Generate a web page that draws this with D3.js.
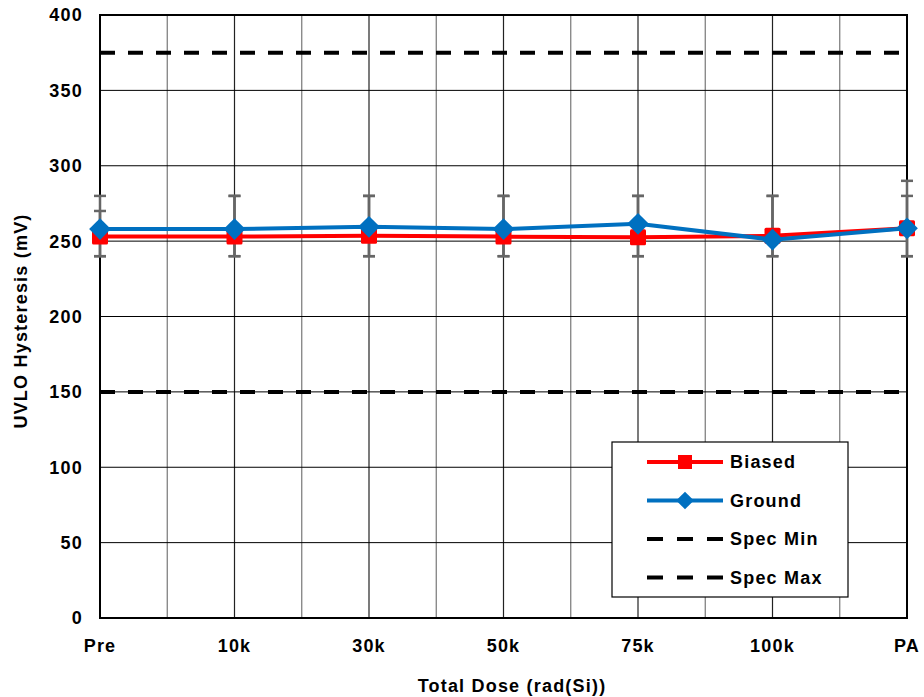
<!DOCTYPE html>
<html lang="en">
<head>
<meta charset="utf-8">
<script src="https://cdnjs.cloudflare.com/ajax/libs/d3/7.8.5/d3.min.js"></script>
<style>
  body { margin: 0; background: #fff; }
  text { font-family: "Liberation Sans", Arial, sans-serif; font-weight: bold; fill: #000; font-size: 18px; letter-spacing: 1.2px; }
</style>
</head>
<body>
<script>

var categories = ["Pre", "10k", "30k", "50k", "75k", "100k", "PA"];
var biased = [253, 253, 253.5, 253, 252.5, 253.5, 258.5];
var ground = [258, 258, 259.5, 258, 261.5, 251, 258.5];
var biasedErrLow = [240, 240, 240, 240, 240, 240, 240];
var biasedErrHigh = [280, 280, 280, 280, 280, 280, 280];
var groundErrLow = [240, 240, 240, 240, 240, 240, 240];
var groundErrHigh = [270, 280, 280, 280, 280, 280, 290];
var specMin = 150, specMax = 375;
var yTicks = [0, 50, 100, 150, 200, 250, 300, 350, 400];

var width = 924, height = 697;
var margin = {left: 100, right: 17, top: 15, bottom: 79};

var svg = d3.select("body").append("svg")
    .attr("width", width)
    .attr("height", height);

var x = d3.scaleLinear()
    .domain([0, categories.length - 1])
    .range([margin.left, width - margin.right]);

var y = d3.scaleLinear()
    .domain([0, 400])
    .range([height - margin.bottom, margin.top]);

var g = svg.append("g");

// vertical grid: half steps lighter
var vgrid = d3.range(0, categories.length - 0.5, 0.5);
g.selectAll(".vgrid").data(vgrid).enter().append("line")
    .attr("x1", function(d) { return x(d); })
    .attr("x2", function(d) { return x(d); })
    .attr("y1", y(0)).attr("y2", y(400))
    .attr("stroke", function(d) { return d % 1 === 0 ? "#222" : "#777"; })
    .attr("stroke-width", 1.2);

g.selectAll(".hgrid").data(yTicks).enter().append("line")
    .attr("x1", x(0)).attr("x2", x(categories.length - 1))
    .attr("y1", function(d) { return y(d); })
    .attr("y2", function(d) { return y(d); })
    .attr("stroke", "#000")
    .attr("stroke-width", 1);

// frame
g.append("rect")
    .attr("x", x(0)).attr("y", y(400))
    .attr("width", x(categories.length - 1) - x(0))
    .attr("height", y(0) - y(400))
    .attr("fill", "none")
    .attr("stroke", "#000")
    .attr("stroke-width", 2);

// spec lines
[specMax, specMin].forEach(function(v) {
  g.append("line")
      .attr("x1", x(0)).attr("x2", x(categories.length - 1))
      .attr("y1", y(v)).attr("y2", y(v))
      .attr("stroke", "#000")
      .attr("stroke-width", 4)
      .attr("stroke-dasharray", "15,13");
});

// error bars
function errorBars(lo, hi) {
  categories.forEach(function(c, i) {
    var eg = g.append("g").attr("stroke", "#666").attr("stroke-width", 2.5);
    eg.append("line")
        .attr("x1", x(i)).attr("x2", x(i))
        .attr("y1", y(lo[i])).attr("y2", y(hi[i]));
    [lo[i], hi[i]].forEach(function(v) {
      eg.append("line")
          .attr("x1", x(i) - 6).attr("x2", x(i) + 6)
          .attr("y1", y(v)).attr("y2", y(v));
    });
  });
}
errorBars(biasedErrLow, biasedErrHigh);
errorBars(groundErrLow, groundErrHigh);

var line = d3.line()
    .x(function(d, i) { return x(i); })
    .y(function(d) { return y(d); });

g.append("path").datum(biased)
    .attr("d", line)
    .attr("fill", "none")
    .attr("stroke", "#ff0000")
    .attr("stroke-width", 4);

g.selectAll(".bmark").data(biased).enter().append("rect")
    .attr("x", function(d, i) { return x(i) - 8; })
    .attr("y", function(d) { return y(d) - 8; })
    .attr("width", 16).attr("height", 16)
    .attr("rx", 1.5)
    .attr("fill", "#ff0000");

g.append("path").datum(ground)
    .attr("d", line)
    .attr("fill", "none")
    .attr("stroke", "#0070c0")
    .attr("stroke-width", 4);

var diamond = d3.symbol().type(d3.symbolDiamond2).size(300);
g.selectAll(".gmark").data(ground).enter().append("path")
    .attr("d", diamond)
    .attr("transform", function(d, i) { return "translate(" + x(i) + "," + y(d) + ")"; })
    .attr("fill", "#0070c0");

// tick labels
svg.selectAll(".ylab").data(yTicks).enter().append("text")
    .attr("x", 83)
    .attr("y", function(d) { return y(d); })
    .attr("dy", "0.36em")
    .attr("text-anchor", "end")
    .text(function(d) { return d; });

svg.selectAll(".xlab").data(categories).enter().append("text")
    .attr("x", function(d, i) { return x(i); })
    .attr("y", 652)
    .attr("text-anchor", "middle")
    .text(function(d) { return d; });

svg.append("text")
    .attr("x", 512).attr("y", 692)
    .attr("text-anchor", "middle")
    .text("Total Dose (rad(Si))");

svg.append("text")
    .attr("transform", "translate(27,321) rotate(-90)")
    .attr("text-anchor", "middle")
    .text("UVLO Hysteresis (mV)");

// legend
var lg = svg.append("g").attr("transform", "translate(612,442)");
lg.append("rect")
    .attr("width", 236).attr("height", 155)
    .attr("fill", "#fff")
    .attr("stroke", "#000")
    .attr("stroke-width", 1.2);

var legendItems = [
  {name: "Biased", color: "#ff0000", mark: "square"},
  {name: "Ground", color: "#0070c0", mark: "diamond"},
  {name: "Spec Min", color: "#000", mark: "dash"},
  {name: "Spec Max", color: "#000", mark: "dash"}
];
legendItems.forEach(function(d, i) {
  var row = lg.append("g").attr("transform", "translate(0," + (20 + i * 38.5) + ")");
  row.append("line")
      .attr("x1", 35).attr("x2", 111)
      .attr("stroke", d.color)
      .attr("stroke-width", 4)
      .attr("stroke-dasharray", d.mark === "dash" ? "16,14" : null);
  if (d.mark === "square") {
    row.append("rect").attr("x", 66).attr("y", -7).attr("width", 14).attr("height", 14)
        .attr("fill", d.color);
  } else if (d.mark === "diamond") {
    row.append("path").attr("d", d3.symbol().type(d3.symbolDiamond2).size(200))
        .attr("transform", "translate(73,0)")
        .attr("fill", d.color);
  }
  row.append("text")
      .attr("x", 118).attr("dy", "0.36em")
      .text(d.name);
});

</script>
</body>
</html>
